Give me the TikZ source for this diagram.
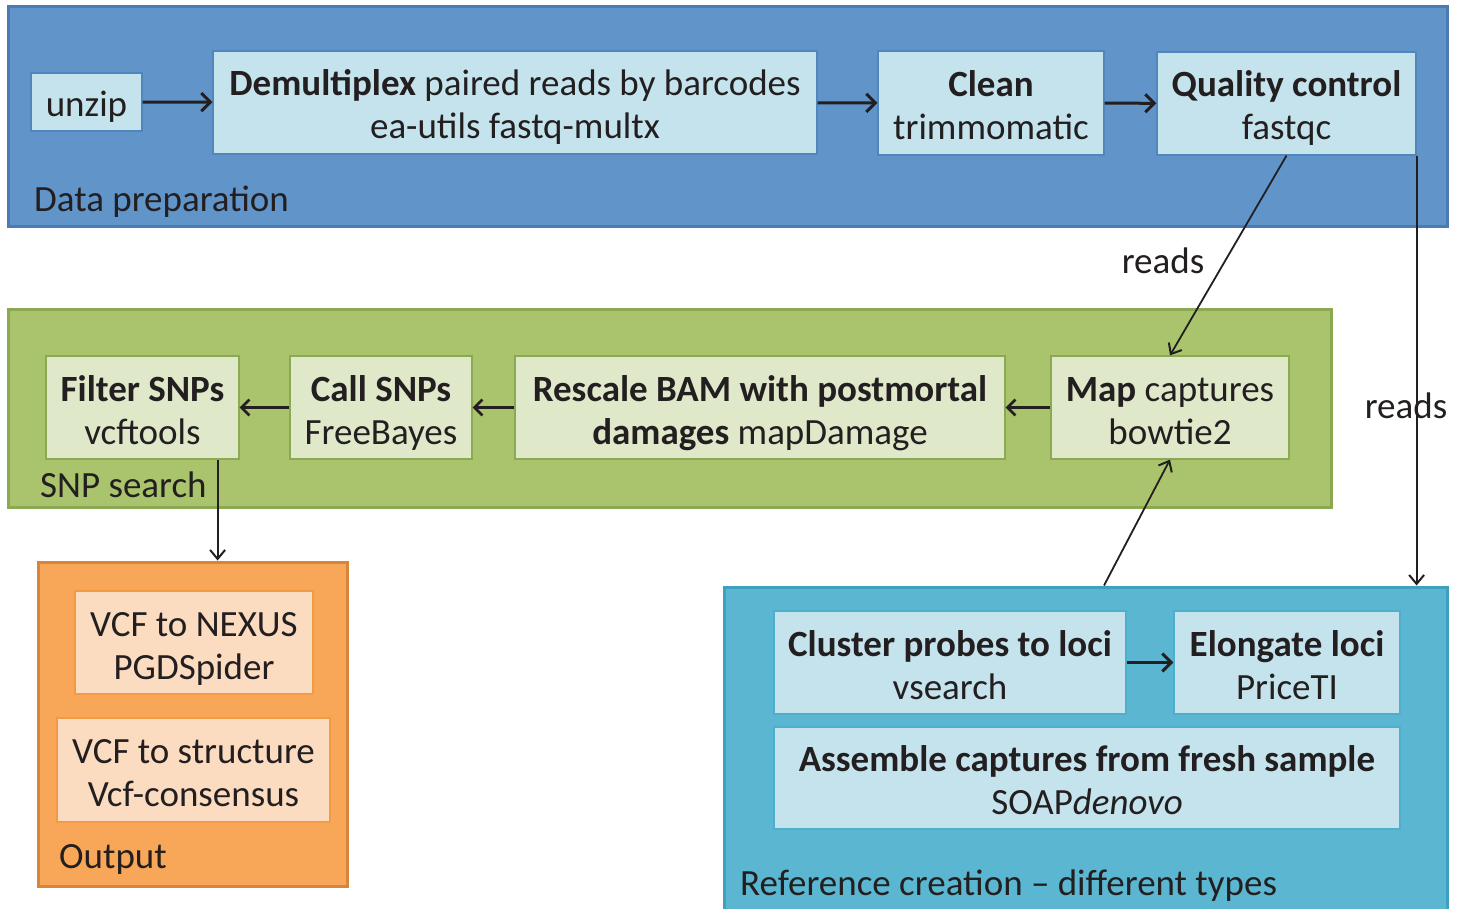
\documentclass[tikz,border=0pt]{standalone}
\usepackage{fontspec}
\setmainfont{Carlito}
\usetikzlibrary{arrows.meta}
\definecolor{dpfill}{HTML}{6195C9}
\definecolor{dpdraw}{HTML}{4A7CB3}
\definecolor{bluein}{HTML}{C4E3EC}
\definecolor{bluedraw}{HTML}{4F86BE}
\definecolor{snfill}{HTML}{AAC46E}
\definecolor{sndraw}{HTML}{8BA852}
\definecolor{snin}{HTML}{DFE8C9}
\definecolor{orfill}{HTML}{F8A758}
\definecolor{ordraw}{HTML}{D8843A}
\definecolor{orin}{HTML}{FCDCC1}
\definecolor{orindraw}{HTML}{F39A45}
\definecolor{rffill}{HTML}{5BB7D1}
\definecolor{rfdraw}{HTML}{3FA0BF}
\definecolor{rfin}{HTML}{C4E3EC}
\definecolor{rfindraw}{HTML}{4DAFCB}
\definecolor{txt}{HTML}{231F20}
\tikzset{
  group/.style={rectangle, line width=3pt, inner sep=0pt},
  box/.style={rectangle, line width=1.2pt, inner sep=0pt, align=center, text=txt,
    text height=83pt, text depth=10pt},
  onebox/.style={box, text height=37pt, text depth=8pt},
  lbl/.style={anchor=west, inner sep=0pt, text=txt},
  flowthick/.style={-{Straight Barb[length=9pt,width=18pt,line width=3pt]}, line width=3pt, draw=txt},
  flowmid/.style={-{Straight Barb[length=8pt,width=16pt,line width=2.6pt]}, line width=2.6pt, draw=txt},
  flowthin/.style={-{Straight Barb[length=9pt,width=15pt,line width=2pt]}, line width=1.8pt, draw=txt},
}
\begin{document}
\begin{tikzpicture}[x=1pt,y=-1pt, font=\fontsize{37}{43}\selectfont]
\useasboundingbox (0,0) rectangle (1461,909);
\fill[white] (0,0) rectangle (1461,909);
% groups
\node[group, fill=dpfill, draw=dpdraw, minimum width=1439pt, minimum height=220pt] (dp) at (727.5,117) {};
\node[group, fill=snfill, draw=sndraw, minimum width=1323pt, minimum height=198pt] (sn) at (669.5,408) {};
\node[group, fill=orfill, draw=ordraw, minimum width=309pt, minimum height=324pt] (out) at (192.5,724) {};
\node[group, fill=rffill, draw=rfdraw, minimum width=723pt, minimum height=330pt] (ref) at (1085.5,752) {};
% group labels
\node[lbl] (dpl) at (34,202) {Data preparation};
\node[lbl] (snl) at (40,485) {SNP search};
\node[lbl] (outl) at (59,859) {Output};
\node[lbl] (refl) at (740,886) {Reference creation -- different types};
% data preparation
\node[onebox, fill=bluein, draw=bluedraw, minimum width=111pt, minimum height=58pt] (unzip) at (86.5,102) {unzip};
\node[box, fill=bluein, draw=bluedraw, minimum width=604pt, minimum height=103pt] (demux) at (515,102.5) {\textbf{Demultiplex} paired reads by barcodes\\ea-utils fastq-multx};
\node[box, fill=bluein, draw=bluedraw, minimum width=226pt, minimum height=104pt] (clean) at (991,103) {\textbf{Clean}\\trimmomatic};
\node[box, fill=bluein, draw=bluedraw, minimum width=259pt, minimum height=103pt] (qc) at (1286.5,103.5) {\textbf{Quality control}\\fastqc};
% SNP search
\node[box, fill=snin, draw=sndraw, minimum width=193pt, minimum height=103pt] (filter) at (142.5,407.5) {\textbf{Filter SNPs}\\vcftools};
\node[box, fill=snin, draw=sndraw, minimum width=182pt, minimum height=103pt] (call) at (381,407.5) {\textbf{Call SNPs}\\FreeBayes};
\node[box, fill=snin, draw=sndraw, minimum width=490pt, minimum height=103pt] (rescale) at (760,407.5) {\textbf{Rescale BAM with postmortal}\\\textbf{damages} mapDamage};
\node[box, fill=snin, draw=sndraw, minimum width=238pt, minimum height=103pt] (map) at (1170,407.5) {\textbf{Map} captures\\bowtie2};
% output
\node[box, fill=orin, draw=orindraw, minimum width=238pt, minimum height=103pt] (nexus) at (194,642.5) {VCF to NEXUS\\PGDSpider};
\node[box, fill=orin, draw=orindraw, minimum width=273pt, minimum height=104pt] (struct) at (193.5,770) {VCF to structure\\Vcf-consensus};
% reference
\node[box, fill=rfin, draw=rfindraw, minimum width=352pt, minimum height=103pt] (cluster) at (950,662.5) {\textbf{Cluster probes to loci}\\vsearch};
\node[box, fill=rfin, draw=rfindraw, minimum width=226pt, minimum height=103pt] (elong) at (1287,662.5) {\textbf{Elongate loci}\\PriceTI};
\node[box, fill=rfin, draw=rfindraw, minimum width=626pt, minimum height=102pt] (assem) at (1087,778) {\textbf{Assemble captures from fresh sample}\\SOAP\textit{denovo}};
% connectors
\draw[flowthick] (unzip) -- (demux);
\draw[flowthick] (demux) -- (clean);
\draw[flowthick] (clean) -- (qc);
\draw[flowmid] (map) -- (rescale);
\draw[flowmid] (rescale) -- (call);
\draw[flowmid] (call) -- (filter);
\draw[flowthick] (cluster) -- (elong);
\draw[flowthin] (qc.south) -- (map.north);
\coordinate (qcc) at (qc.south east);
\draw[flowthin] (qcc) -- (qcc |- ref.north);
\coordinate (refout) at ([xshift=18.5pt]ref.north);
\draw[flowthin] (refout) -- (map.south);
\coordinate (fout) at ([xshift=-22pt]filter.south east);
\draw[flowthin] (fout) -- (fout |- out.north);
% connector labels
\node[inner sep=0pt, text=txt] (r1) at (1163,261) {reads};
\node[inner sep=0pt, text=txt] (r2) at (1406,406) {reads};
\end{tikzpicture}
\end{document}
